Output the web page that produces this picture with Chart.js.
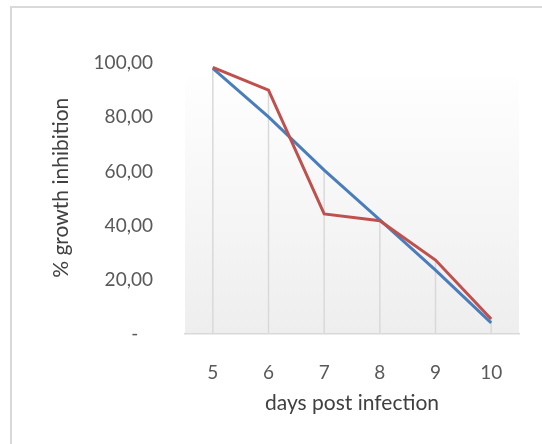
<!DOCTYPE html>
<html>
<head>
<meta charset="utf-8">
<script src="https://cdn.jsdelivr.net/npm/chart.js@4/dist/chart.umd.min.js"></script>
<style>
  html, body { margin: 0; padding: 0; background: #fff; }
  #wrap { width: 542px; height: 444px; position: relative; }
</style>
</head>
<body>
<div id="wrap"><canvas id="chart"></canvas></div>
<script>
// Data
const days = ["5", "6", "7", "8", "9", "10"];
const blueSeries = [98.0, 80.1, 60.5, 42.1, 23.6, 4.1];
const redSeries = [98.4, 90.0, 44.3, 41.8, 27.3, 5.5];
const yTicks = [0, 20, 40, 60, 80, 100];

const FONT = "Lato";

// Frame + plot area gradient
const backdrop = {
  id: "backdrop",
  beforeDraw(chart) {
    const { ctx, chartArea } = chart;
    ctx.save();
    ctx.fillStyle = "#ffffff";
    ctx.fillRect(0, 0, chart.width, chart.height);
    ctx.strokeStyle = "#d9d9d9";
    ctx.lineWidth = 2;
    ctx.beginPath();
    ctx.moveTo(11, chart.height);
    ctx.lineTo(11, 7);
    ctx.lineTo(chart.width, 7);
    ctx.stroke();
    const g = ctx.createLinearGradient(0, chartArea.top, 0, chartArea.bottom);
    g.addColorStop(0, "#ffffff");
    g.addColorStop(1, "#eeeeee");
    ctx.fillStyle = g;
    ctx.fillRect(chartArea.left, chartArea.top + 14, chartArea.right - chartArea.left, chartArea.bottom - chartArea.top - 14);
    ctx.restore();
  }
};

// Excel-style drop lines from the highest point down to the axis
const dropLines = {
  id: "dropLines",
  beforeDatasetsDraw(chart) {
    const { ctx, chartArea } = chart;
    const metas = chart.data.datasets.map((_, i) => chart.getDatasetMeta(i));
    ctx.save();
    ctx.strokeStyle = "#d9d9d9";
    ctx.lineWidth = 1.5;
    days.forEach((_, i) => {
      const x = metas[0].data[i].x;
      const top = Math.min(...metas.map(m => m.data[i].y));
      ctx.beginPath();
      ctx.moveTo(x, top);
      ctx.lineTo(x, chartArea.bottom);
      ctx.stroke();
    });
    ctx.restore();
  }
};

new Chart(document.getElementById("chart"), {
  type: "line",
  data: {
    labels: days,
    datasets: [
      {
        label: "series 1",
        data: blueSeries,
        borderColor: "#4A7EBB",
        borderWidth: 3,
        pointRadius: 0,
        tension: 0,
        order: 1
      },
      {
        label: "series 2",
        data: redSeries,
        borderColor: "#C0504D",
        borderWidth: 3,
        pointRadius: 0,
        tension: 0,
        order: 0
      }
    ]
  },
  options: {
    responsive: true,
    maintainAspectRatio: false,
    animation: false,
    layout: { padding: { left: 12, right: 23, top: 63, bottom: 0 } },
    plugins: {
      legend: { display: false },
      tooltip: { enabled: false }
    },
    scales: {
      x: {
        offset: true,
        grid: { display: false },
        border: { display: true, color: "#d9d9d9", width: 1.5 },
        ticks: {
          color: "#595959",
          font: { family: FONT, size: 19 },
          padding: 19,
          maxRotation: 0
        },
        title: {
          display: true,
          text: "days post infection",
          color: "#404040",
          font: { family: FONT, size: 21 },
          padding: { top: 0, bottom: 28 }
        },
        afterFit(scale) { scale.height = 110; }
      },
      y: {
        min: 0,
        max: 100,
        afterBuildTicks(scale) { scale.ticks = yTicks.map(v => ({ value: v })); },
        grid: { display: false },
        border: { display: false },
        ticks: {
          color: "#595959",
          font: { family: FONT, size: 19 },
          padding: 24,
          callback: v => v === 0 ? "-\u00a0\u00a0\u00a0" : v.toFixed(2).replace(".", ",")
        },
        title: {
          display: true,
          text: "\u00a0\u00a0\u00a0\u00a0% growth inhibition",
          color: "#404040",
          font: { family: FONT, size: 21 },
          padding: { top: 37, bottom: 0 }
        },
        afterFit(scale) { scale.width = 173; }
      }
    }
  },
  plugins: [backdrop, dropLines]
});
</script>
</body>
</html>
